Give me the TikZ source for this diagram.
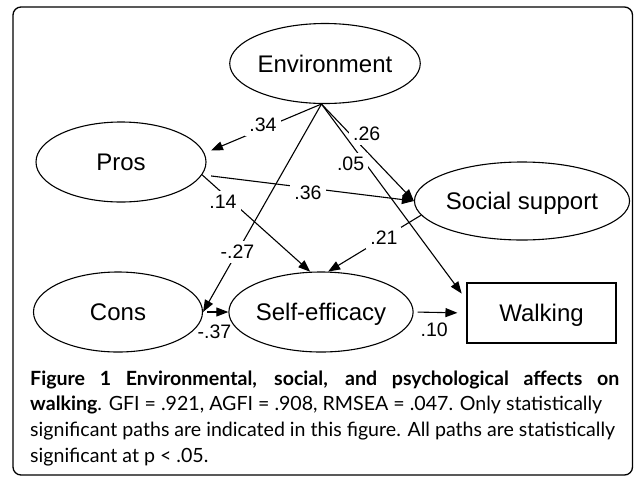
\documentclass[tikz,border=0pt]{standalone}
\usepackage{fontspec}
\newfontfamily\diagfont{Liberation Sans}
\newfontfamily\capfont{Lato}
\usetikzlibrary{shapes.geometric,arrows.meta}

\begin{document}
\begin{tikzpicture}[x=1pt,y=-1pt,
    latent/.style={ellipse, draw, line width=1.1pt, minimum width=168pt, minimum height=80pt, inner sep=0pt, text height=17pt, text depth=0pt, font=\diagfont\fontsize{24}{28}\selectfont},
    manifest/.style={rectangle, draw, line width=1.1pt, minimum width=149pt, minimum height=60pt, inner sep=0pt, text height=17pt, text depth=0pt, font=\diagfont\fontsize{24}{28}\selectfont},
    effect/.style={line width=1.1pt, -{Triangle[length=12pt,width=9pt]}},
    coef/.style={fill=white, inner sep=4pt, font=\diagfont\fontsize{19.5}{22}\selectfont},
    capline/.style={anchor=base west, inner sep=0pt, font=\capfont\fontsize{19.6}{23}\selectfont}]
\useasboundingbox (0,0) rectangle (634,477);
\draw[line width=1.3pt, rounded corners=8pt] (13,7) rectangle (632.5,475);

% model
\node[latent] (env) at (325,63.5) {Environment};
\node[latent, minimum width=170pt] (pros) at (121,162) {Pros};
\node[latent, minimum width=169pt, minimum height=78pt] (soc) at (522,201) {Social support};
\node[latent, minimum width=169pt] (cons) at (118,312) {Cons};
\node[latent] (selfeff) at (321,312) {Self-efficacy};
\node[manifest] (walk) at (541.5,313) {Walking};

\draw[effect, shorten >=7pt] (env.265) -- node[coef, pos=.5, yshift=4pt] {.34} (pros.6);
\draw[effect] (env.265) -- node[coef, pos=.37, xshift=11pt, yshift=6pt] {.26} (soc.west);
\draw[effect, shorten >=8pt] (env.265) -- node[coef, pos=.27, xshift=-10pt, yshift=-7pt] {.05} ([yshift=13pt]walk.west);
\draw[effect] (env.265) -- node[coef, pos=.71] {-.27} (cons.east);
\draw[effect, shorten <=9pt] (pros.-9) -- node[coef, pos=.5, yshift=-5pt] {.36} (soc.west);
\draw[effect] (pros.-9) -- node[coef, pos=.23, xshift=-4pt, yshift=-5pt] {.14} (selfeff.105);
\draw[effect] (soc.188) -- node[coef, pos=.40] {.21} (selfeff.80);
\draw[effect, shorten <=4pt] (cons.east) -- node[coef, fill=none, inner sep=1pt, pos=.45, below=11pt] {-.37} (selfeff.west);
\draw[effect, shorten <=4pt, shorten >=9pt] (selfeff.east) -- node[coef, fill=none, inner sep=1pt, pos=.39, below=9pt] {.10} (walk.west);

% caption
\node[capline] (cap1) at (30,385) {\makebox[589pt][s]{\textbf{Figure 1 Environmental, social, and psychological affects on}}};
\node[capline] (cap2) at (30,410) {\textbf{walking}. GFI = .921, AGFI = .908, RMSEA = .047. Only statistically};
\node[capline] (cap3) at (30,436) {significant paths are indicated in this figure. All paths are statistically};
\node[capline] (cap4) at (30,462) {significant at p < .05.};
\end{tikzpicture}
\end{document}
